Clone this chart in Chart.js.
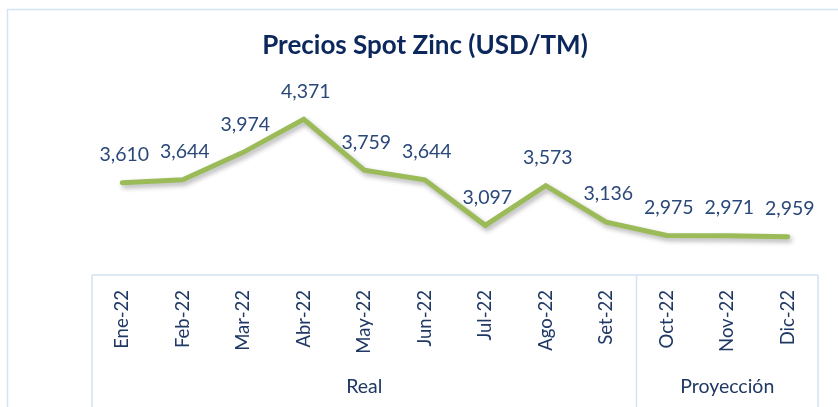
<!DOCTYPE html>
<html>
<head>
<meta charset="utf-8">
<script src="https://cdn.jsdelivr.net/npm/chart.js@4"></script>
<style>
    html, body { margin: 0; padding: 0; background: #fff; }
    #wrap { width: 838px; height: 407px; position: relative; }
</style>
</head>
<body>
<div id="wrap"><canvas id="myChart" width="838" height="407"></canvas></div>
<script>
const months = ['Ene-22', 'Feb-22', 'Mar-22', 'Abr-22', 'May-22', 'Jun-22',
                'Jul-22', 'Ago-22', 'Set-22', 'Oct-22', 'Nov-22', 'Dic-22'];
const prices = [3610, 3644, 3974, 4371, 3759, 3644, 3097, 3573, 3136, 2975, 2971, 2959];
const groups = [
    { label: 'Real', from: 0, to: 8 },
    { label: 'Proyección', from: 9, to: 11 }
];
const chartTitle = 'Precios Spot Zinc (USD/TM)';

const boxColor = '#d5e2f3';
const textColor = '#1f3864';
const labelColor = '#2a4879';

function fmt(v) {
    return v.toLocaleString('en-US');
}

// frame, title, axis box with group names, and value labels
const decorations = {
    id: 'decorations',
    beforeDraw(chart) {
        const ctx = chart.ctx;
        ctx.save();
        ctx.strokeStyle = boxColor;
        ctx.lineWidth = 1.5;
        ctx.strokeRect(7.5, 9.5, 900, 500);

        ctx.fillStyle = '#0c275b';
        ctx.font = 'bold 26px Lato';
        ctx.textAlign = 'center';
        ctx.textBaseline = 'middle';
        ctx.fillText(chartTitle, 425, 46);
        ctx.restore();
    },
    afterDraw(chart) {
        const ctx = chart.ctx;
        const x = chart.scales.x;
        const area = chart.chartArea;
        const bottom = chart.height;
        const half = (x.getPixelForValue(1) - x.getPixelForValue(0)) / 2;

        ctx.save();
        ctx.strokeStyle = boxColor;
        ctx.lineWidth = 1.5;
        ctx.beginPath();
        ctx.moveTo(x.left, area.bottom);
        ctx.lineTo(x.right, area.bottom);
        ctx.moveTo(x.left, area.bottom);
        ctx.lineTo(x.left, bottom);
        for (const g of groups) {
            const edge = x.getPixelForValue(g.to) + half;
            ctx.moveTo(edge, area.bottom);
            ctx.lineTo(edge, bottom);
        }
        ctx.stroke();

        ctx.fillStyle = textColor;
        ctx.font = '19.5px Lato';
        ctx.textAlign = 'center';
        ctx.textBaseline = 'middle';
        for (const g of groups) {
            const mid = (x.getPixelForValue(g.from) + x.getPixelForValue(g.to)) / 2;
            ctx.fillText(g.label, mid, 387);
        }

        const meta = chart.getDatasetMeta(0);
        ctx.fillStyle = labelColor;
        ctx.font = '19.5px Lato';
        meta.data.forEach((pt, i) => {
            ctx.fillText(fmt(prices[i]), pt.x + 2, pt.y - 28);
        });
        ctx.restore();
    },
    beforeDatasetDraw(chart) {
        const ctx = chart.ctx;
        ctx.save();
        ctx.shadowColor = 'rgba(0, 0, 0, 0.3)';
        ctx.shadowBlur = 5;
        ctx.shadowOffsetX = 2;
        ctx.shadowOffsetY = 3;
    },
    afterDatasetDraw(chart) {
        chart.ctx.restore();
    }
};

const ctx = document.getElementById('myChart');
new Chart(ctx, {
    type: 'line',
    data: {
        labels: months,
        datasets: [{
            data: prices,
            borderColor: '#9bbb59',
            borderWidth: 5,
            borderJoinStyle: 'miter',
            borderCapStyle: 'round',
            tension: 0,
            pointRadius: 0,
            clip: false
        }]
    },
    options: {
        responsive: false,
        animation: false,
        layout: {
            padding: { top: 67, left: 92, right: 20, bottom: 0 }
        },
        plugins: {
            legend: { display: false },
            title: { display: false },
            tooltip: { enabled: false }
        },
        scales: {
            x: {
                offset: true,
                grid: { display: false, drawTicks: false },
                border: { display: false },
                ticks: {
                    color: textColor,
                    font: { family: 'Lato', size: 18.5 },
                    minRotation: 90,
                    maxRotation: 90,
                    padding: 15,
                    autoSkip: false
                },
                afterFit(scale) {
                    scale.height = 132;
                }
            },
            y: {
                display: false,
                min: 2500,
                max: 5000
            }
        }
    },
    plugins: [decorations]
});
</script>
</body>
</html>
